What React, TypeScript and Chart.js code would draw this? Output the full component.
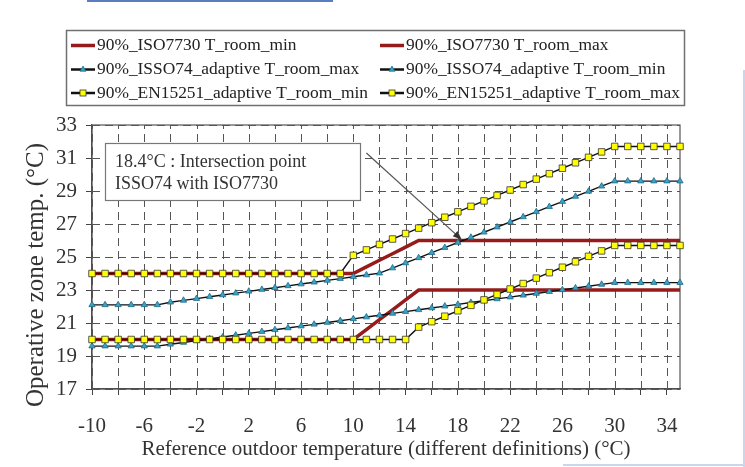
import React, { useEffect, useRef } from 'react';
import { Chart, registerables } from 'chart.js';

Chart.register(...registerables);

// ---------- data ----------
const xValues = [
  -10, -9, -8, -7, -6, -5, -4, -3, -2, -1, 0, 1, 2, 3, 4, 5, 6, 7, 8, 9, 10, 11, 12,
  13, 14, 15, 16, 17, 18, 19, 20, 21, 22, 23, 24, 25, 26, 27, 28, 29, 30, 31, 32, 33, 34, 35,
];

const iso7730Min = [
  20, 20, 20, 20, 20, 20, 20, 20, 20, 20, 20, 20, 20, 20, 20, 20, 20, 20, 20, 20, 20,
  20.6, 21.2, 21.8, 22.4,
  23, 23, 23, 23, 23, 23, 23, 23, 23, 23, 23, 23, 23, 23, 23, 23, 23, 23, 23, 23, 23,
];

const iso7730Max = [
  24, 24, 24, 24, 24, 24, 24, 24, 24, 24, 24, 24, 24, 24, 24, 24, 24, 24, 24, 24, 24,
  24.4, 24.8, 25.2, 25.6,
  26, 26, 26, 26, 26, 26, 26, 26, 26, 26, 26, 26, 26, 26, 26, 26, 26, 26, 26, 26, 26,
];

const isso74Max = [
  22.1, 22.1, 22.1, 22.1, 22.1, 22.1,
  22.26, 22.37, 22.48, 22.59, 22.7, 22.81, 22.92, 23.03, 23.14, 23.25, 23.36, 23.47, 23.58,
  23.69, 23.8, 23.91, 24.02,
  24.33, 24.64, 24.95, 25.26, 25.57, 25.88, 26.19, 26.5, 26.81, 27.12, 27.43, 27.74, 28.05,
  28.36, 28.67, 28.98, 29.29, 29.6,
  29.6, 29.6, 29.6, 29.6, 29.6,
];

const isso74Min = [
  19.6, 19.6, 19.6, 19.6, 19.6, 19.6,
  19.71, 19.82, 19.93, 20.04, 20.15, 20.26, 20.37, 20.48, 20.59, 20.7, 20.81, 20.92, 21.03,
  21.14, 21.25, 21.36, 21.47, 21.58, 21.69, 21.8, 21.91, 22.02, 22.13, 22.24, 22.35, 22.46,
  22.57, 22.68, 22.79, 22.9, 23.01, 23.12, 23.23, 23.34, 23.45,
  23.45, 23.45, 23.45, 23.45, 23.45,
];

const en15251Min = [
  20, 20, 20, 20, 20, 20, 20, 20, 20, 20, 20, 20, 20, 20, 20, 20, 20, 20, 20, 20, 20, 20,
  20, 20, 20,
  20.75, 21.08, 21.41, 21.74, 22.07, 22.4, 22.73, 23.06, 23.39, 23.72, 24.05, 24.38, 24.71,
  25.04, 25.37, 25.7,
  25.7, 25.7, 25.7, 25.7, 25.7,
];

const en15251Max = [
  24, 24, 24, 24, 24, 24, 24, 24, 24, 24, 24, 24, 24, 24, 24, 24, 24, 24, 24, 24,
  25.1, 25.43, 25.76, 26.09, 26.42, 26.75, 27.08, 27.41, 27.74, 28.07, 28.4, 28.73, 29.06,
  29.39, 29.72, 30.05, 30.38, 30.71, 31.04, 31.37, 31.7,
  31.7, 31.7, 31.7, 31.7, 31.7,
];

const xTickLabels = ['-10', '-6', '-2', '2', '6', '10', '14', '18', '22', '26', '30', '34'];
const xAxisTitle = 'Reference outdoor temperature (different definitions) (°C)';
const yAxisTitle = 'Operative zone temp. (°C)';
const annotationLines = ['18.4°C : Intersection point', 'ISSO74 with ISO7730'];
const intersectionPoint = { x: 18.4, y: 26 };

const labelIsoMin = '90%_ISO7730 T_room_min';
const labelIsoMax = '90%_ISO7730 T_room_max';
const labelIssoMax = '90%_ISSO74_adaptive T_room_max';
const labelIssoMin = '90%_ISSO74_adaptive T_room_min';
const labelEnMin = '90%_EN15251_adaptive T_room_min';
const labelEnMax = '90%_EN15251_adaptive T_room_max';

// ---------- styles ----------
const SERIF = "'Liberation Serif', 'Times New Roman', serif";
const RED = '#961b1b';
const TEAL = '#3aa3c6';
const TEAL_EDGE = '#1e6b88';
const YELLOW = '#ffff00';
const LINE_BLACK = '#111111';
const TEXT = '#333333';
const GRID = '#555555';

type Kind = 'red' | 'teal' | 'yellow';

const legendItems: { label: string; kind: Kind; col: number; row: number }[] = [
  { label: labelIsoMin, kind: 'red', col: 0, row: 0 },
  { label: labelIsoMax, kind: 'red', col: 1, row: 0 },
  { label: labelIssoMax, kind: 'teal', col: 0, row: 1 },
  { label: labelIssoMin, kind: 'teal', col: 1, row: 1 },
  { label: labelEnMin, kind: 'yellow', col: 0, row: 2 },
  { label: labelEnMax, kind: 'yellow', col: 1, row: 2 },
];

function drawTriangle(ctx: CanvasRenderingContext2D, cx: number, cy: number, r: number) {
  ctx.beginPath();
  for (let k = 0; k < 3; k++) {
    const a = -Math.PI / 2 + (k * 2 * Math.PI) / 3;
    const px = cx + Math.cos(a) * r;
    const py = cy + Math.sin(a) * r;
    if (k === 0) ctx.moveTo(px, py);
    else ctx.lineTo(px, py);
  }
  ctx.closePath();
  ctx.fillStyle = TEAL;
  ctx.fill();
  ctx.lineWidth = 0.8;
  ctx.strokeStyle = TEAL_EDGE;
  ctx.stroke();
}

const decorPlugin = {
  id: 'decor',
  beforeDatasetsDraw(chart: any) {
    const { ctx, chartArea: a } = chart;
    const xs = chart.scales.x;
    const ys = chart.scales.y;
    ctx.save();
    // dashed grid
    ctx.strokeStyle = GRID;
    ctx.lineWidth = 1;
    ctx.setLineDash([8, 5]);
    xs.ticks.forEach((t: any) => {
      const px = Math.round(xs.getPixelForValue(t.value)) + 0.5;
      ctx.beginPath();
      ctx.moveTo(px, a.bottom);
      ctx.lineTo(px, a.top);
      ctx.stroke();
    });
    ys.ticks.forEach((t: any) => {
      const py = Math.round(ys.getPixelForValue(t.value)) + 0.5;
      ctx.beginPath();
      ctx.moveTo(a.left, py);
      ctx.lineTo(a.right, py);
      ctx.stroke();
    });
    // frame
    ctx.setLineDash([]);
    ctx.strokeStyle = '#555555';
    ctx.lineWidth = 1.2;
    ctx.strokeRect(a.left, a.top, a.right - a.left, a.bottom - a.top);
    ctx.restore();
  },
  afterDraw(chart: any) {
    const { ctx } = chart;
    const xs = chart.scales.x;
    const ys = chart.scales.y;
    ctx.save();

    // page edge artifacts
    ctx.fillStyle = '#5a7cc0';
    ctx.fillRect(87, 0, 246, 2);
    ctx.fillStyle = '#c9d6ec';
    ctx.fillRect(743, 70, 2, 397);
    ctx.fillRect(563, 464, 182, 2);

    // annotation box
    const bx1 = xs.getPixelForValue(-9);
    const bx2 = xs.getPixelForValue(10.55);
    const by1 = ys.getPixelForValue(31.88);
    const by2 = ys.getPixelForValue(28.45);
    ctx.fillStyle = '#ffffff';
    ctx.fillRect(bx1, by1, bx2 - bx1, by2 - by1);
    ctx.strokeStyle = '#777777';
    ctx.lineWidth = 1.2;
    ctx.strokeRect(Math.round(bx1) + 0.5, Math.round(by1) + 0.5, Math.round(bx2 - bx1), Math.round(by2 - by1));
    ctx.fillStyle = TEXT;
    ctx.font = `18px ${SERIF}`;
    ctx.textAlign = 'left';
    ctx.textBaseline = 'middle';
    ctx.fillText(annotationLines[0], bx1 + 10, by1 + 19);
    ctx.fillText(annotationLines[1], bx1 + 10, by1 + 41);

    // arrow
    const ax1 = xs.getPixelForValue(11.0);
    const ay1 = ys.getPixelForValue(31.3);
    const ax2 = xs.getPixelForValue(intersectionPoint.x - 0.1);
    const ay2 = ys.getPixelForValue(intersectionPoint.y + 0.05);
    const ang = Math.atan2(ay2 - ay1, ax2 - ax1);
    const hl = 9;
    const hw = 3.5;
    ctx.strokeStyle = '#555555';
    ctx.lineWidth = 1.2;
    ctx.beginPath();
    ctx.moveTo(ax1, ay1);
    ctx.lineTo(ax2 - Math.cos(ang) * hl * 0.8, ay2 - Math.sin(ang) * hl * 0.8);
    ctx.stroke();
    ctx.fillStyle = '#333333';
    ctx.beginPath();
    ctx.moveTo(ax2, ay2);
    ctx.lineTo(ax2 - Math.cos(ang) * hl - Math.sin(ang) * hw, ay2 - Math.sin(ang) * hl + Math.cos(ang) * hw);
    ctx.lineTo(ax2 - Math.cos(ang) * hl + Math.sin(ang) * hw, ay2 - Math.sin(ang) * hl - Math.cos(ang) * hw);
    ctx.closePath();
    ctx.fill();

    // legend
    ctx.strokeStyle = '#707070';
    ctx.lineWidth = 1.5;
    ctx.strokeRect(66.5, 30.5, 618, 75);
    const colX = [71, 380];
    const rowY = [45.5, 69.5, 93];
    ctx.font = `17.4px ${SERIF}`;
    ctx.textBaseline = 'middle';
    ctx.textAlign = 'left';
    legendItems.forEach((it) => {
      const lx = colX[it.col];
      const ly = rowY[it.row];
      if (it.kind === 'red') {
        ctx.strokeStyle = RED;
        ctx.lineWidth = 3.5;
      } else {
        ctx.strokeStyle = LINE_BLACK;
        ctx.lineWidth = 2.5;
      }
      ctx.beginPath();
      ctx.moveTo(lx, ly);
      ctx.lineTo(lx + 24, ly);
      ctx.stroke();
      const mx = lx + 12;
      if (it.kind === 'teal') {
        drawTriangle(ctx, mx, ly, 3.4);
      } else if (it.kind === 'yellow') {
        ctx.fillStyle = YELLOW;
        ctx.fillRect(mx - 3, ly - 3, 6, 6);
        ctx.strokeStyle = '#333333';
        ctx.lineWidth = 0.8;
        ctx.strokeRect(mx - 3, ly - 3, 6, 6);
      }
      ctx.fillStyle = '#222222';
      ctx.fillText(it.label, lx + 26, ly);
    });

    // y axis title
    ctx.save();
    ctx.translate(43, 275);
    ctx.rotate(-Math.PI / 2);
    ctx.font = `25px ${SERIF}`;
    ctx.fillStyle = TEXT;
    ctx.textAlign = 'center';
    ctx.textBaseline = 'alphabetic';
    ctx.fillText(yAxisTitle, 0, 0);
    ctx.restore();

    ctx.restore();
  },
};

export default function App() {
  const canvasRef = useRef<HTMLCanvasElement | null>(null);

  useEffect(() => {
    const canvas = canvasRef.current;
    if (!canvas) return;

    const lineSet = (label: string, values: number[], kind: Kind) => {
      const data = xValues.map((x, i) => ({ x, y: values[i] }));
      if (kind === 'red') {
        return {
          label,
          data,
          borderColor: RED,
          backgroundColor: RED,
          borderWidth: 3.5,
          pointRadius: 0,
          tension: 0,
          order: 3,
        };
      }
      if (kind === 'teal') {
        return {
          label,
          data,
          borderColor: LINE_BLACK,
          backgroundColor: TEAL,
          borderWidth: 1.4,
          pointStyle: 'triangle',
          pointRadius: 3.6,
          pointBackgroundColor: TEAL,
          pointBorderColor: TEAL_EDGE,
          pointBorderWidth: 0.8,
          tension: 0,
          clip: false,
          order: 2,
        };
      }
      return {
        label,
        data,
        borderColor: LINE_BLACK,
        backgroundColor: YELLOW,
        borderWidth: 1.4,
        pointStyle: 'rect',
        pointRadius: 4.6,
        pointBackgroundColor: YELLOW,
        pointBorderColor: '#333333',
        pointBorderWidth: 0.8,
        tension: 0,
        clip: false,
        order: 1,
      };
    };

    const chart = new Chart(canvas, {
      type: 'line',
      data: {
        datasets: [
          lineSet(labelIsoMin, iso7730Min, 'red'),
          lineSet(labelIsoMax, iso7730Max, 'red'),
          lineSet(labelIssoMax, isso74Max, 'teal'),
          lineSet(labelIssoMin, isso74Min, 'teal'),
          lineSet(labelEnMin, en15251Min, 'yellow'),
          lineSet(labelEnMax, en15251Max, 'yellow'),
        ] as any,
      },
      options: {
        responsive: false,
        animation: false,
        devicePixelRatio: 1,
        layout: { padding: { top: 125, right: 65, bottom: 0, left: 0 } },
        plugins: {
          legend: { display: false },
          tooltip: { enabled: false },
        },
        scales: {
          x: {
            type: 'linear',
            min: -10,
            max: 35,
            afterFit: (s: any) => {
              s.height = 78;
            },
            ticks: {
              stepSize: 2,
              includeBounds: false,
              autoSkip: false,
              maxRotation: 0,
              padding: 19,
              color: TEXT,
              font: { family: SERIF, size: 21 },
              callback: (v: any) => (xTickLabels.includes(String(v)) ? String(v) : ''),
            },
            grid: {
              drawOnChartArea: false,
              drawTicks: true,
              color: GRID,
              lineWidth: 1,
              tickLength: 6,
              tickColor: '#444444',
            },
            border: { display: true, color: '#444444', width: 1.2 },
            title: {
              display: true,
              text: xAxisTitle,
              color: TEXT,
              font: { family: SERIF, size: 21 },
              padding: { top: 0, bottom: 5 },
            },
          },
          y: {
            type: 'linear',
            min: 17,
            max: 33,
            afterFit: (s: any) => {
              s.width = 92;
            },
            ticks: {
              stepSize: 2,
              padding: 9,
              color: TEXT,
              font: { family: SERIF, size: 21 },
            },
            grid: {
              drawOnChartArea: false,
              drawTicks: true,
              color: GRID,
              lineWidth: 1,
              tickLength: 6,
              tickColor: '#444444',
            },
            border: { display: true, color: '#444444', width: 1.2 },
            title: { display: false },
          },
        },
      },
      plugins: [decorPlugin],
    });

    return () => {
      chart.destroy();
    };
  }, []);

  return (
    <div style={{ position: 'absolute', left: 0, top: 0, width: 745, height: 467, background: '#ffffff' }}>
      <canvas ref={canvasRef} width={745} height={467} style={{ display: 'block' }} />
    </div>
  );
}
